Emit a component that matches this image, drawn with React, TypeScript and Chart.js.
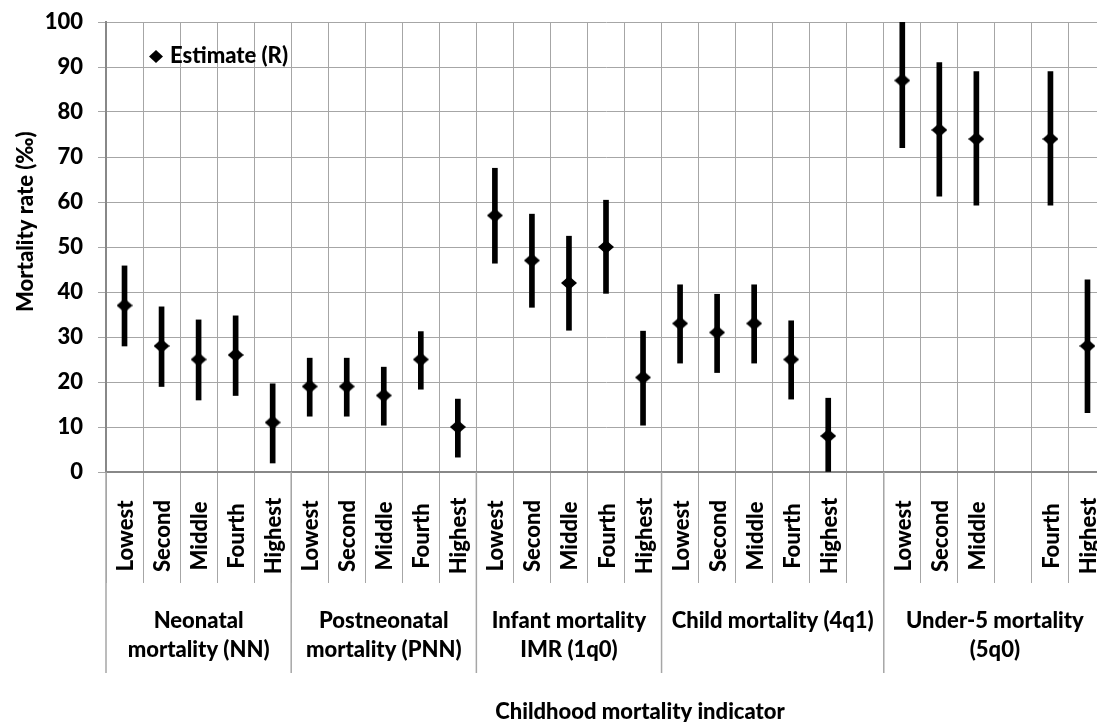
import { useEffect, useRef } from 'react';
import { Chart, registerables } from 'chart.js';

Chart.register(...registerables);

// Wealth quintile under each indicator ('' = empty spacer slot)
const categories = [
  'Lowest', 'Second', 'Middle', 'Fourth', 'Highest',
  'Lowest', 'Second', 'Middle', 'Fourth', 'Highest',
  'Lowest', 'Second', 'Middle', 'Fourth', 'Highest',
  'Lowest', 'Second', 'Middle', 'Fourth', 'Highest', '',
  'Lowest', 'Second', 'Middle', '', 'Fourth', 'Highest',
];

// Indicator groups and how many category slots each spans
const groupNames: string[][] = [
  ['Neonatal', 'mortality (NN)'],
  ['Postneonatal', 'mortality (PNN)'],
  ['Infant mortality', 'IMR (1q0)'],
  ['Child mortality (4q1)'],
  ['Under-5 mortality', '(5q0)'],
];
const groupSizes = [5, 5, 5, 6, 6];

// Point estimates (per mille)
const estimates = [
  37, 28, 25, 26, 11,
  19, 19, 17, 25, 10,
  57, 47, 42, 50, 21,
  33, 31, 33, 25, 8, null,
  87, 76, 74, null, 74, 28,
];

// Confidence interval bounds
const lowerBounds = [
  28, 19, 16, 17, 2,
  12.4, 12.4, 10.4, 18.4, 3.3,
  46.4, 36.6, 31.5, 39.7, 10.4,
  24.2, 22.1, 24.2, 16.2, 0, null,
  72.1, 61.3, 59.3, null, 59.3, 13.2,
];
const upperBounds = [
  45.8, 36.7, 33.8, 34.7, 19.6,
  25.3, 25.3, 23.3, 31.2, 16.2,
  67.5, 57.3, 52.4, 60.4, 31.3,
  41.6, 39.5, 41.6, 33.6, 16.4, null,
  102, 91, 89, null, 89, 42.7,
];

const yMin = 0;
const yMax = 100;
const yStep = 10;

const seriesLabel = 'Estimate (R)';
const yTitle = 'Mortality rate (‰)';
const xTitle = 'Childhood mortality indicator';

const FONT = 'Lato, "Open Sans", sans-serif';
const FONT_SIZE = 22;
const FONT_WEIGHT = 900;
const GRID = '#a6a6a6';
const AXIS = '#888888';

function makeDiamond(w: number, h: number): HTMLCanvasElement {
  const c = document.createElement('canvas');
  c.width = w;
  c.height = h;
  const g = c.getContext('2d')!;
  g.fillStyle = '#000';
  g.beginPath();
  g.moveTo(w / 2, 0);
  g.lineTo(w, h / 2);
  g.lineTo(w / 2, h);
  g.lineTo(0, h / 2);
  g.closePath();
  g.fill();
  return c;
}

const multiLevelAxis = {
  id: 'multiLevelAxis',
  afterDraw(chart: any) {
    const { ctx, chartArea, scales } = chart;
    const x = scales.x;
    const slot = x.getPixelForValue(1) - x.getPixelForValue(0);
    const bottom = chartArea.bottom;
    const edge0 = x.getPixelForValue(0) - slot / 2;
    ctx.save();

    // group separators
    ctx.strokeStyle = GRID;
    ctx.lineWidth = 1.5;
    let idx = 0;
    const bounds: number[] = [0];
    groupSizes.forEach((n) => { idx += n; bounds.push(idx); });
    bounds.forEach((b) => {
      const px = edge0 + b * slot;
      ctx.beginPath();
      ctx.moveTo(px, bottom);
      ctx.lineTo(px, 673);
      ctx.stroke();
    });

    ctx.fillStyle = '#000';
    ctx.font = `${FONT_WEIGHT} ${FONT_SIZE}px ${FONT}`;
    ctx.textBaseline = 'alphabetic';

    // rotated quintile labels
    categories.forEach((label, i) => {
      if (!label) return;
      const cx = x.getPixelForValue(i);
      ctx.save();
      ctx.translate(cx + 8.5, 536);
      ctx.rotate(-Math.PI / 2);
      ctx.textAlign = 'center';
      ctx.fillText(label, 0, 0);
      ctx.restore();
    });

    // y axis title
    ctx.save();
    ctx.translate(33, 312);
    ctx.rotate(-Math.PI / 2);
    ctx.textAlign = 'left';
    ctx.fillText(yTitle, 0, 0);
    ctx.restore();

    // indicator group labels
    ctx.textAlign = 'center';
    groupNames.forEach((lines, gi) => {
      const cx = edge0 + ((bounds[gi] + bounds[gi + 1]) / 2) * slot;
      lines.forEach((t, li) => ctx.fillText(t, cx, 628 + li * 29));
    });

    // x axis title
    ctx.fillText(xTitle, 640, 719);

    // legend inside the plot
    ctx.drawImage(makeDiamond(14, 13), 149, 50);
    ctx.textAlign = 'left';
    ctx.fillText(seriesLabel, 170, 63);
    ctx.restore();
  },
};

export default function App() {
  const ref = useRef<HTMLCanvasElement | null>(null);

  useEffect(() => {
    if (!ref.current) return;
    const diamond = makeDiamond(16, 14);
    const ranges = lowerBounds.map((lo, i) =>
      lo === null || upperBounds[i] === null ? null : [lo, upperBounds[i]]
    );
    const chart = new Chart(ref.current, {
      type: 'bar',
      data: {
        labels: categories,
        datasets: [
          {
            type: 'bar',
            label: 'CI',
            data: ranges as any,
            backgroundColor: '#000',
            borderWidth: 0,
            barThickness: 5,
            order: 2,
          },
          {
            type: 'line',
            label: seriesLabel,
            data: estimates as any,
            showLine: false,
            pointStyle: diamond as any,
            pointRadius: 8,
            pointHoverRadius: 8,
            order: 1,
          },
        ],
      },
      options: {
        animation: false,
        responsive: false,
        events: [],
        layout: { padding: { top: 22, left: 0, right: 6, bottom: 0 } },
        plugins: {
          legend: { display: false },
          tooltip: { enabled: false },
        },
        scales: {
          x: {
            offset: true,
            grid: {
              offset: true,
              color: GRID,
              lineWidth: 1,
              tickLength: 111,
              drawTicks: true,
            },
            border: { color: AXIS, width: 2 },
            ticks: { display: false },
            afterFit(scale: any) {
              scale.height = 250;
              scale.paddingLeft = 0;
              scale.paddingRight = 0;
            },
          },
          y: {
            min: yMin,
            max: yMax,
            grid: { color: GRID, lineWidth: 1, tickLength: 8 },
            border: { color: AXIS, width: 2 },
            ticks: {
              stepSize: yStep,
              padding: 15,
              color: '#000',
              font: { family: FONT, size: FONT_SIZE, weight: FONT_WEIGHT as any },
            },
            afterFit(scale: any) {
              scale.width = 106;
              scale.paddingTop = 0;
              scale.paddingBottom = 0;
            },
          },
        },
      },
      plugins: [multiLevelAxis],
    });
    return () => chart.destroy();
  }, []);

  return (
    <div
      style={{
        position: 'fixed',
        left: 0,
        top: 0,
        width: 1097,
        height: 722,
        overflow: 'hidden',
        background: '#fff',
      }}
    >
      <canvas ref={ref} width={1115} height={722} style={{ width: 1115, height: 722, display: 'block' }} />
    </div>
  );
}
